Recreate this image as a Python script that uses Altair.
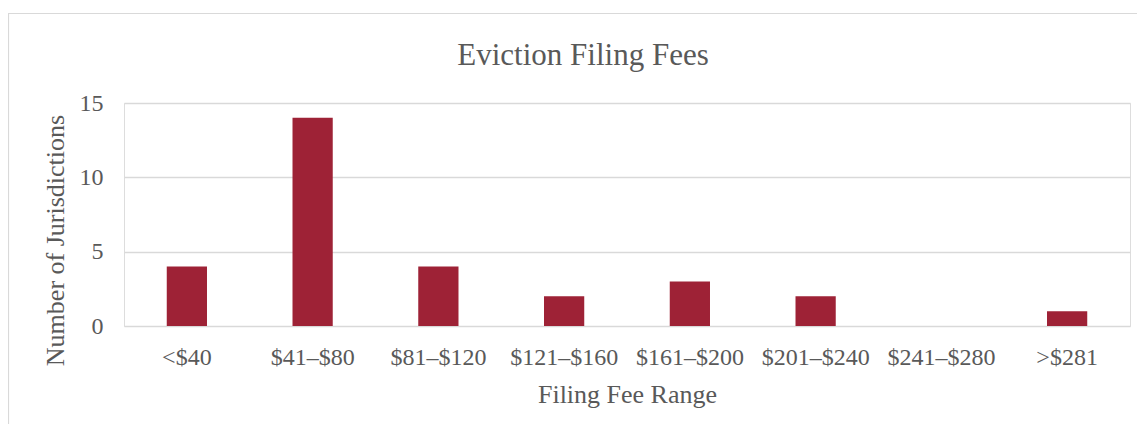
import altair as alt
import pandas as pd

categories = ["<$40", "$41–$80", "$81–$120", "$121–$160", "$161–$200", "$201–$240", "$241–$280", ">$281"]
counts = [4, 14, 4, 2, 3, 2, 0, 1]
y_ticks = [0, 5, 10, 15]

df = pd.DataFrame({"range": categories, "count": counts})

FONT = "Liberation Serif"
TEXT = "#595959"
GRID = "#d9d9d9"
BAR = "#9e2236"

bars = alt.Chart(df).mark_bar(color=BAR).encode(
    x=alt.X(
        "range:N",
        sort=categories,
        scale=alt.Scale(paddingInner=0.68, paddingOuter=0.34),
        axis=alt.Axis(
            title="Filing Fee Range",
            labelAngle=0,
            ticks=False,
            domain=False,
            grid=False,
            labelFont=FONT,
            labelFontSize=24,
            labelColor=TEXT,
            labelBaseline="alphabetic",
            labelPadding=38,
            titleFont=FONT,
            titleFontSize=26,
            titleFontWeight="normal",
            titleColor=TEXT,
            titleBaseline="alphabetic",
            titleY=76,
        ),
    ),
    y=alt.Y(
        "count:Q",
        scale=alt.Scale(domain=[0, 15], nice=False),
        axis=alt.Axis(
            title="Number of Jurisdictions",
            values=y_ticks,
            ticks=False,
            domain=False,
            grid=True,
            gridColor=GRID,
            gridWidth=1.5,
            labelFont=FONT,
            labelFontSize=24,
            labelColor=TEXT,
            labelPadding=21,
            titleFont=FONT,
            titleFontSize=26,
            titleFontWeight="normal",
            titleColor=TEXT,
            titleAngle=270,
            titleAlign="center",
            titleBaseline="alphabetic",
            titleX=-61,
            titleY=137,
        ),
    ),
)

border = alt.Chart(pd.DataFrame({"a": [0]})).mark_rect(
    fill=None, stroke=GRID, strokeWidth=1.2
).encode(
    x=alt.value(-115.5), x2=alt.value(1030), y=alt.value(-89.5), y2=alt.value(400)
)

chart = alt.layer(border, bars).properties(
    width=1006,
    height=223,
    title=alt.TitleParams(
        text="Eviction Filing Fees",
        font=FONT,
        fontSize=31,
        fontWeight="normal",
        color=TEXT,
        anchor="middle",
        frame="group",
        baseline="alphabetic",
        offset=-83,
        dx=-44,
    ),
    autosize=alt.AutoSizeParams(type="none"),
    padding={"left": 116, "top": 95, "right": 7, "bottom": 98},
).configure_view(stroke=None).configure(background="white")

chart.save("out.html", embed_options={"renderer": "svg", "actions": False})
